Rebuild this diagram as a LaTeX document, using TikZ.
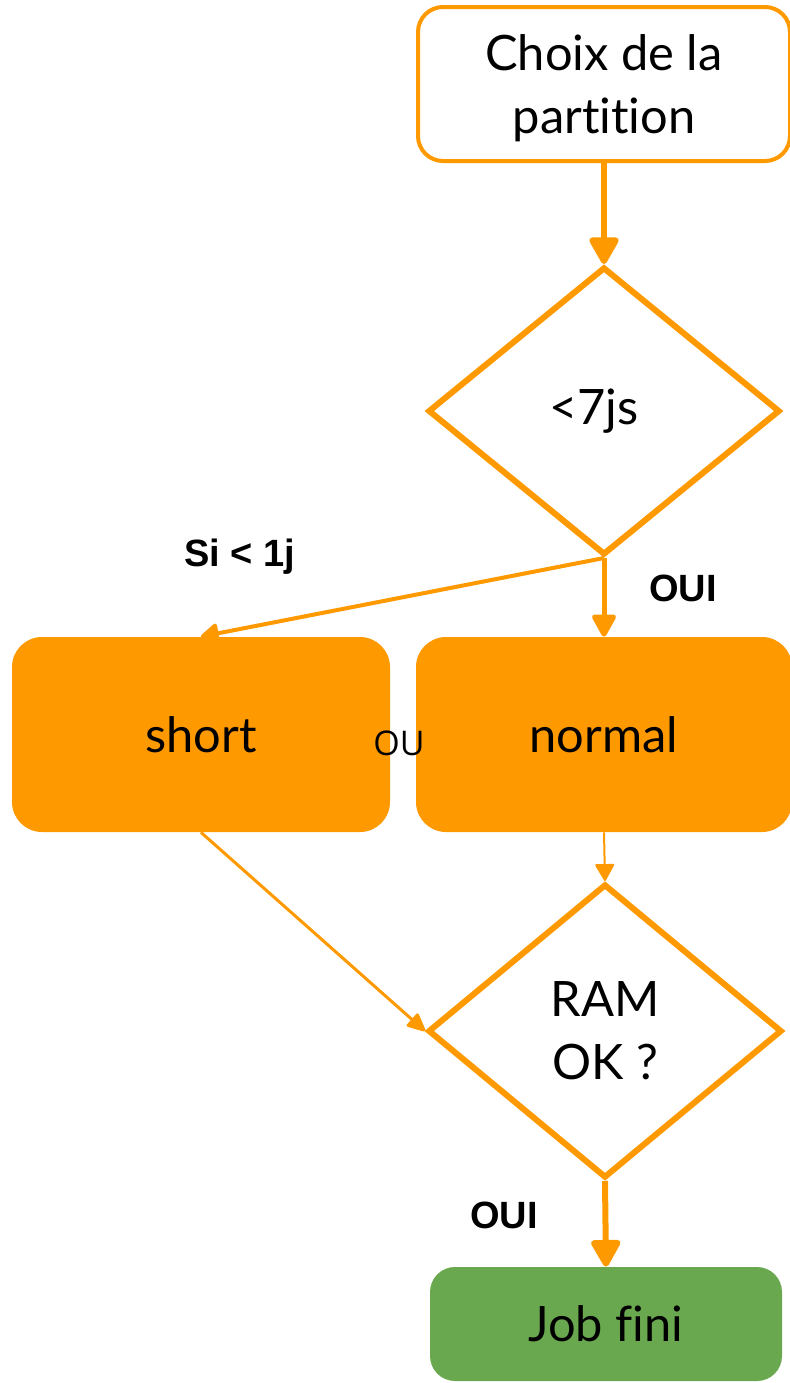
\documentclass[tikz,border=0pt]{standalone}
\usepackage{fontspec}
\setmainfont{Lato}[Ligatures=NoCommon]
\newfontfamily\labelfont{Liberation Sans}
\newfontfamily\oufont{Open Sans}
\usetikzlibrary{
    shapes.geometric,
    arrows.meta,
    positioning
}
\definecolor{flowOrange}{HTML}{FF9900}
\definecolor{flowGreen}{HTML}{6AA84F}

\begin{document}
\begin{tikzpicture}[x=0.5pt, y=-0.5pt,
    every node/.style={font=\fontsize{24.4}{31.5}\selectfont, align=center, inner sep=0pt},
    startbox/.style={draw=flowOrange, line width=2pt, rounded corners=12.5pt, fill=white},
    partbox/.style={fill=flowOrange, rounded corners=15pt, minimum width=189pt, minimum height=97.5pt},
    endbox/.style={fill=flowGreen, rounded corners=12.5pt},
    test/.style={draw=flowOrange, line width=3pt, diamond, fill=white},
    choice/.style={font=\labelfont\bfseries\fontsize{19}{22}\selectfont},
    flow/.style={draw=flowOrange, line width=3pt, -{Triangle[length=15pt, width=16pt, round]}},
]
\useasboundingbox (0,0) rectangle (790,1383);

\node[startbox, minimum width=186pt, minimum height=77pt] (choix) at (604,84) {\raisebox{-2.5pt}[\height][\depth]{\begin{tabular}{@{}c@{}}Choix de la\\partition\end{tabular}}};
\node[test, minimum width=176pt, minimum height=144pt] (dur) at (604,411) {\hspace*{-10pt}<7js};
\node[partbox] (short) at (201,734.5) {short};
\node[partbox, minimum width=188pt] (normal) at (604,734.5) {normal};
\node[test, minimum width=177pt, minimum height=147pt] (ram) at (605,1031) {RAM\\OK ?};
\node[endbox, minimum width=176pt, minimum height=57pt] (fini) at (606,1324) {Job fini};

\node[choice] (si) at (240,557) {Si < 1j};
\node[choice] (oui1) at (683,588) {OUI};
\node[font=\oufont\fontsize{17}{20}\selectfont] (ou) at (399,743) {OU};
\node[choice] (oui2) at (504,1215) {OUI};

\draw[flow] (choix) -- (dur);
\draw[flow, line width=2.5pt, -{Triangle[length=12.5pt, width=13pt, round]}] (dur.south) -- (normal.north);
\draw[flow, line width=2pt, -{Triangle[length=10pt, width=11pt, round]}] (dur.south) -- (short.north);
\draw[flow, line width=1pt, -{Triangle[length=9pt, width=10pt, round]}] (normal.south) -- (ram.north);
\draw[flow, line width=1.5pt, -{Triangle[length=10pt, width=9pt, round]}] (short.south) -- (ram.west);
\draw[flow] (ram.south) -- (fini.north);
\end{tikzpicture}
\end{document}
